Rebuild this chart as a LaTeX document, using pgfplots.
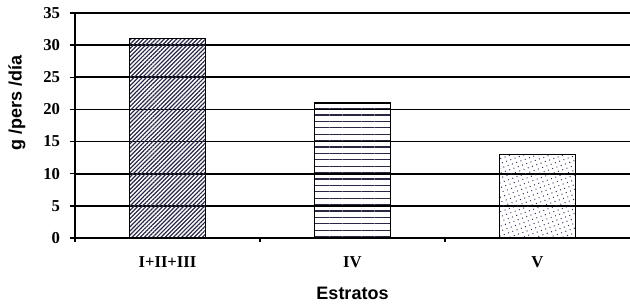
\documentclass[border=0pt]{standalone}
\usepackage{pgfplots}
\pgfplotsset{compat=1.18}
\usetikzlibrary{patterns.meta}
\usepackage{fontspec}
\setmainfont{Liberation Serif}
\newfontfamily\arialb{Liberation Sans}
\begin{document}
\begin{tikzpicture}
\path[use as bounding box] (-56.25pt,-51.75pt) rectangle (416.25pt,178.5pt);
\begin{axis}[
  at={(0,0)}, anchor=south west,
  scale only axis,
  width=416.25pt, height=168.75pt,
  xmin=-0.5, xmax=2.5, ymin=0, ymax=35,
  axis x line*=bottom, axis y line*=left,
  axis line style={black, line width=1.2pt, -},
  ytick={0,5,...,35},
  ymajorgrids, grid style={black, line width=1.2pt},
  xtick={0,1,2},
  xticklabels={I+II+III,IV,V},
  minor xtick={-0.5,0.5,1.5},
  major x tick style={draw=none},
  minor x tick style={black, line width=1pt},
  minor tick length=3pt,
  major tick length=4pt,
  tick align=outside,
  y tick style={black, line width=1.1pt},
  tick label style={font=\fontsize{12.5}{14}\selectfont\bfseries},
  yticklabel style={inner sep=0pt, xshift=-7pt},
  xticklabel style={inner sep=0pt, yshift=-10pt},
  /pgf/number format/assume math mode=true,
  ylabel={g /pers /día},
  ylabel style={font=\arialb\fontsize{13.5}{15}\selectfont\bfseries, at={(axis description cs:-0.1045,0.6)}, anchor=center, rotate=0},
  xlabel={Estratos},
  xlabel style={font=\arialb\fontsize{13.5}{15}\selectfont\bfseries, at={(axis description cs:0.5,-0.244)}, anchor=center},
  ybar, bar width=57pt, bar shift=0pt,
  clip=false,
]
\addplot[draw=black, line width=1pt, bar shift=0pt, pattern={Lines[angle=45, distance=2.2pt, line width=0.9pt]}, pattern color={rgb,255:red,40;green,40;blue,70}] coordinates {(0,31)};
\addplot[draw=black, line width=1pt, bar shift=0pt, pattern={Lines[angle=0, distance=4.8pt, line width=0.8pt]}, pattern color={rgb,255:red,40;green,40;blue,70}] coordinates {(1,21)};
\addplot[draw=black, line width=1pt, bar shift=0pt, pattern={Dots[distance=3.4pt, radius=0.5pt, angle=20]}, pattern color={rgb,255:red,40;green,40;blue,90}] coordinates {(2,13)};
\end{axis}
\end{tikzpicture}
\end{document}
